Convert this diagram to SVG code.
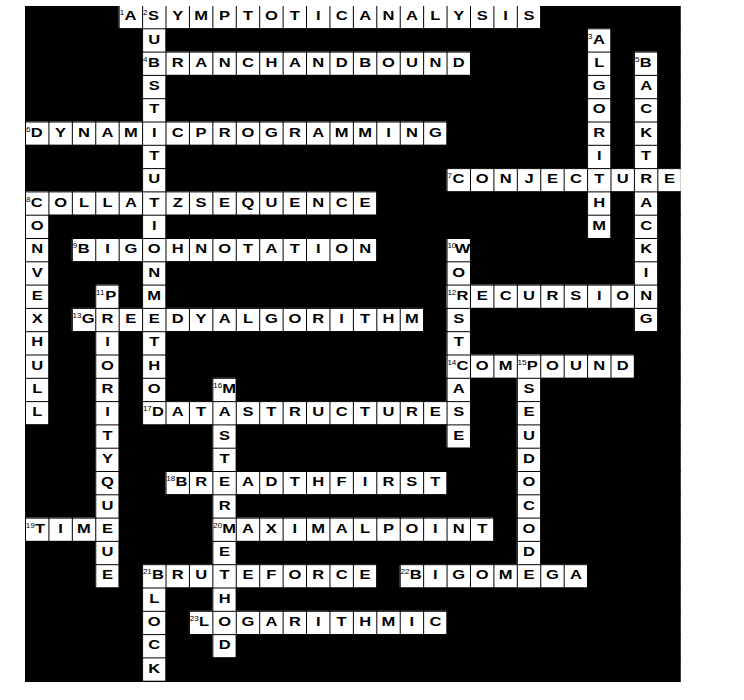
<svg xmlns="http://www.w3.org/2000/svg" width="744" height="700" viewBox="0 0 744 700">
<style>
.bg{fill:#000}
.cell{fill:#fff}
.grid{stroke:#000;stroke-width:1;fill:none}
.L{font-family:"Liberation Sans",Arial,sans-serif;font-weight:bold;font-size:13.2px;text-anchor:middle;fill:#000}
.N{font-family:"Liberation Sans",Arial,sans-serif;font-size:8px;fill:#000}
</style>
<rect x="0" y="0" width="744" height="700" fill="#fff"/>
<rect class="bg" x="25" y="6" width="655.76" height="676"/>
<g id="cells">
<rect class="cell" x="118.68" y="5" width="421.56" height="23.3"/>
<rect class="cell" x="142.1" y="51.6" width="327.88" height="23.3"/>
<rect class="cell" x="25" y="121.5" width="421.56" height="23.3"/>
<rect class="cell" x="446.56" y="168.1" width="234.2" height="23.3"/>
<rect class="cell" x="25" y="191.4" width="351.3" height="23.3"/>
<rect class="cell" x="71.84" y="238" width="304.46" height="23.3"/>
<rect class="cell" x="446.56" y="284.6" width="210.78" height="23.3"/>
<rect class="cell" x="71.84" y="307.9" width="351.3" height="23.3"/>
<rect class="cell" x="446.56" y="354.5" width="187.36" height="23.3"/>
<rect class="cell" x="142.1" y="401.1" width="327.88" height="23.3"/>
<rect class="cell" x="165.52" y="471" width="281.04" height="23.3"/>
<rect class="cell" x="25" y="517.6" width="93.68" height="23.3"/>
<rect class="cell" x="212.36" y="517.6" width="281.04" height="23.3"/>
<rect class="cell" x="142.1" y="564.2" width="234.2" height="23.3"/>
<rect class="cell" x="399.72" y="564.2" width="187.36" height="23.3"/>
<rect class="cell" x="188.94" y="610.8" width="257.62" height="23.3"/>
<rect class="cell" x="142.1" y="5" width="23.42" height="419.4"/>
<rect class="cell" x="587.08" y="28.3" width="23.42" height="209.7"/>
<rect class="cell" x="633.92" y="51.6" width="23.42" height="279.6"/>
<rect class="cell" x="25" y="191.4" width="23.42" height="233"/>
<rect class="cell" x="446.56" y="238" width="23.42" height="209.7"/>
<rect class="cell" x="95.26" y="284.6" width="23.42" height="302.9"/>
<rect class="cell" x="516.82" y="354.5" width="23.42" height="233"/>
<rect class="cell" x="212.36" y="377.8" width="23.42" height="279.6"/>
<rect class="cell" x="142.1" y="564.2" width="23.42" height="116.5"/>
</g>
<g id="grid">
<path class="grid" d="M25.5 6V682M48.92 6V682M72.34 6V682M95.76 6V682M119.18 6V682M142.6 6V682M166.02 6V682M189.44 6V682M212.86 6V682M236.28 6V682M259.7 6V682M283.12 6V682M306.54 6V682M329.96 6V682M353.38 6V682M376.8 6V682M400.22 6V682M423.64 6V682M447.06 6V682M470.48 6V682M493.9 6V682M517.32 6V682M540.74 6V682M564.16 6V682M587.58 6V682M611 6V682M634.42 6V682M657.84 6V682"/>
<path class="grid" d="M25 28.8H680.76M25 52.1H680.76M25 75.4H680.76M25 98.7H680.76M25 122H680.76M25 145.3H680.76M25 168.6H680.76M25 191.9H680.76M25 215.2H680.76M25 238.5H680.76M25 261.8H680.76M25 285.1H680.76M25 308.4H680.76M25 331.7H680.76M25 355H680.76M25 378.3H680.76M25 401.6H680.76M25 424.9H680.76M25 448.2H680.76M25 471.5H680.76M25 494.8H680.76M25 518.1H680.76M25 541.4H680.76M25 564.7H680.76M25 588H680.76M25 611.3H680.76M25 634.6H680.76M25 657.9H680.76"/>
</g>
<g id="numbers">
<text class="N" x="119.7" y="15.2">1</text>
<text class="N" x="143.1" y="15.2">2</text>
<text class="N" x="588.1" y="38.5">3</text>
<text class="N" x="143.1" y="61.8">4</text>
<text class="N" x="634.9" y="61.8">5</text>
<text class="N" x="26" y="131.7">6</text>
<text class="N" x="447.6" y="178.3">7</text>
<text class="N" x="26" y="201.6">8</text>
<text class="N" x="72.8" y="248.2">9</text>
<text class="N" x="447.4" y="248.2">10</text>
<text class="N" x="96.1" y="294.8">11</text>
<text class="N" x="447.4" y="294.8">12</text>
<text class="N" x="72.6" y="318.1">13</text>
<text class="N" x="447.4" y="364.7">14</text>
<text class="N" x="517.6" y="364.7">15</text>
<text class="N" x="213.2" y="388">16</text>
<text class="N" x="142.9" y="411.3">17</text>
<text class="N" x="166.3" y="481.2">18</text>
<text class="N" x="25.8" y="527.8">19</text>
<text class="N" x="213.2" y="527.8">20</text>
<text class="N" x="142.9" y="574.4">21</text>
<text class="N" x="400.5" y="574.4">22</text>
<text class="N" x="189.7" y="621">23</text>
</g>
<g id="across" transform="scale(1.25 1)">
<text class="L" y="20.3" x="104.4 122.8 142.2 160.9 179.7 198.4 217.1 235.9 254.6 273.3 292.1 310.8 329.5 348.3 367 385.8 404.5 423.2">ASYMPTOTICANALYSIS</text>
<text class="L" y="66.9" x="123.1 142.2 160.9 179.7 198.4 217.1 235.9 254.6 273.3 292.1 310.8 329.5 348.3 367">BRANCHANDBOUND</text>
<text class="L" y="136.8" x="29.4 48.5 67.2 86 104.7 123.4 142.2 160.9 179.7 198.4 217.1 235.9 254.6 273.3 292.1 310.8 329.5 348.3">DYNAMICPROGRAMMING</text>
<text class="L" y="183.4" x="366.7 385.8 404.5 423.2 442 460.7 479.4 498.2 516.9 535.6">CONJECTURE</text>
<text class="L" y="206.7" x="29.4 48.5 67.2 86 104.7 123.4 142.2 160.9 179.7 198.4 217.1 235.9 254.6 273.3 292.1">COLLATZSEQUENCE</text>
<text class="L" y="253.3" x="66.9 86 104.7 123.4 142.2 160.9 179.7 198.4 217.1 235.9 254.6 273.3 292.1">BIGOHNOTATION</text>
<text class="L" y="299.9" x="370 385.8 404.5 423.2 442 460.7 479.4 498.2 516.9">RECURSION</text>
<text class="L" y="323.2" x="70.5 86 104.7 123.4 142.2 160.9 179.7 198.4 217.1 235.9 254.6 273.3 292.1 310.8 329.5">GREEDYALGORITHM</text>
<text class="L" y="369.8" x="370 385.8 404.5 425.8 442 460.7 479.4 498.2">COMPOUND</text>
<text class="L" y="416.4" x="126.4 142.2 160.9 179.7 198.4 217.1 235.9 254.6 273.3 292.1 310.8 329.5 348.3 367">DATASTRUCTURES</text>
<text class="L" y="486.3" x="145.1 160.9 179.7 198.4 217.1 235.9 254.6 273.3 292.1 310.8 329.5 348.3">BREADTHFIRST</text>
<text class="L" y="532.9" x="32 48.5 67.2 86">TIME</text>
<text class="L" y="532.9" x="183.3 198.4 217.1 235.9 254.6 273.3 292.1 310.8 329.5 348.3 367 385.8">MAXIMALPOINT</text>
<text class="L" y="579.5" x="126.4 142.2 160.9 179.7 198.4 217.1 235.9 254.6 273.3 292.1">BRUTEFORCE</text>
<text class="L" y="579.5" x="332.5 348.3 367 385.8 404.5 423.2 442 460.7">BIGOMEGA</text>
<text class="L" y="626.1" x="163.2 179.7 198.4 217.1 235.9 254.6 273.3 292.1 310.8 329.5 348.3">LOGARITHMIC</text>
</g>
<g id="down" transform="scale(1.25 1)">
<text class="L" x="123.4 123.4 123.4 123.4 123.4 123.4 123.4 123.4 123.4 123.4 123.4" y="43.6 90.2 113.5 160.1 183.4 230 276.6 299.9 346.5 369.8 393.1">USTTUINMTHO</text>
<text class="L" x="479.1 479.4 479.4 479.4 479.4 479.4 479.4 479.4" y="43.6 66.9 90.2 113.5 136.8 160.1 206.7 230">ALGORIHM</text>
<text class="L" x="516.6 516.9 516.9 516.9 516.9 516.9 516.9 516.9 516.9 516.9" y="66.9 90.2 113.5 136.8 160.1 206.7 230 253.3 276.6 323.2">BACKTACKIG</text>
<text class="L" x="29.8 29.8 29.8 29.8 29.8 29.8 29.8 29.8 29.8" y="230 253.3 276.6 299.9 323.2 346.5 369.8 393.1 416.4">ONVEXHULL</text>
<text class="L" x="370 367 367 367 367 367" y="253.3 276.6 323.2 346.5 393.1 439.7">WOSTAE</text>
<text class="L" x="88.6 86 86 86 86 86 86 86 86 86 86" y="299.9 346.5 369.8 393.1 416.4 439.7 463 486.3 509.6 556.2 579.5">PIORITYQUUE</text>
<text class="L" x="423.2 423.2 423.2 423.2 423.2 423.2 423.2 423.2" y="393.1 416.4 439.7 463 486.3 509.6 532.9 556.2">SEUDOCOD</text>
<text class="L" x="183.3 179.7 179.7 179.7 179.7 179.7 179.7" y="393.1 439.7 463 509.6 556.2 602.8 649.4">MSTREHD</text>
<text class="L" x="123.4 123.4 123.4 123.4" y="602.8 626.1 649.4 672.7">LOCK</text>
</g>
</svg>
